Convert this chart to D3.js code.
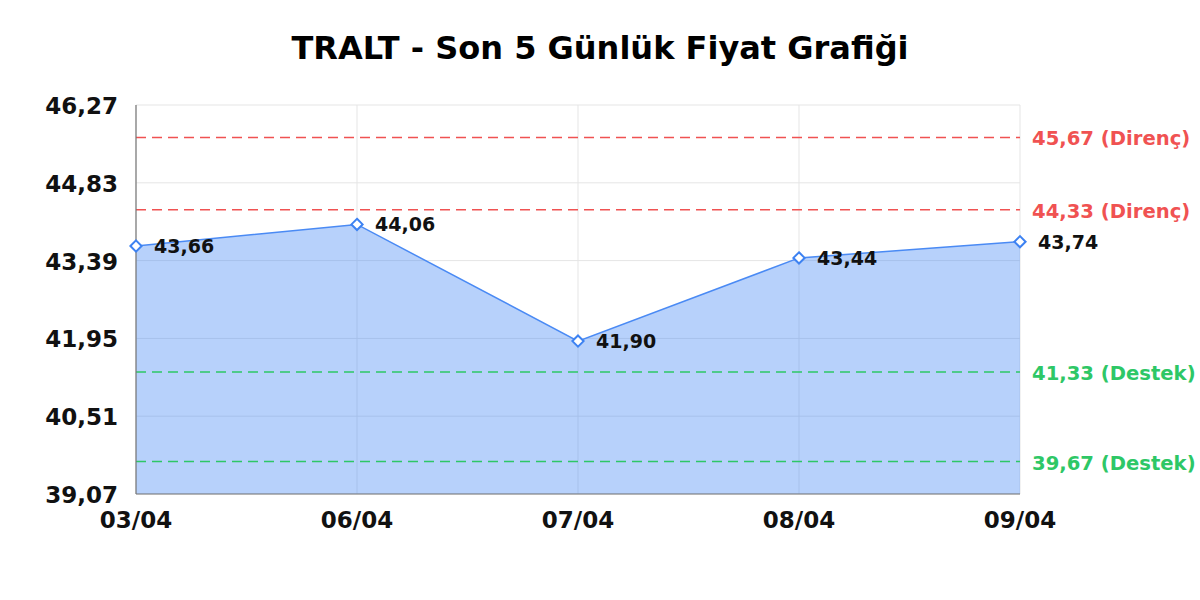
<!DOCTYPE html>
<html>
<head>
<meta charset="utf-8">
<script src="https://cdn.jsdelivr.net/npm/d3@7"></script>
<style>
  body { margin: 0; background: #fff; }
  text { font-family: "DejaVu Sans", sans-serif; font-weight: bold; }
</style>
</head>
<body>
<svg id="chart" width="1200" height="600"></svg>
<script>
// data
var dates = ['03/04', '06/04', '07/04', '08/04', '09/04'];
var prices = [43.66, 44.06, 41.90, 43.44, 43.74];
var yTicks = [39.07, 40.51, 41.95, 43.39, 44.83, 46.27];
var resistance = [45.67, 44.33];
var support = [41.33, 39.67];

var svg = d3.select('#chart');
var margin = { left: 136, right: 180, top: 105, bottom: 106 };
var W = 1200, H = 600;

var x = d3.scalePoint().domain(dates).range([margin.left, W - margin.right]);
var y = d3.scaleLinear().domain([39.07, 46.27]).range([H - margin.bottom, margin.top]);

var fmt = function (v) { return v.toFixed(2).replace('.', ','); };

// title
svg.append('text')
  .attr('x', 600).attr('y', 59)
  .attr('text-anchor', 'middle')
  .attr('font-size', 32)
  .text('TRALT - Son 5 Günlük Fiyat Grafiği');

// grid
svg.append('g').selectAll('line.h')
  .data(yTicks).enter().append('line')
  .attr('x1', margin.left).attr('x2', W - margin.right)
  .attr('y1', function (d) { return y(d); }).attr('y2', function (d) { return y(d); })
  .attr('stroke', '#e5e5e5').attr('stroke-width', 1);

svg.append('g').selectAll('line.v')
  .data(dates).enter().append('line')
  .attr('y1', margin.top).attr('y2', H - margin.bottom)
  .attr('x1', function (d) { return x(d); }).attr('x2', function (d) { return x(d); })
  .attr('stroke', '#e5e5e5').attr('stroke-width', 1);

// area + line
var area = d3.area()
  .x(function (d, i) { return x(dates[i]); })
  .y0(y(39.07))
  .y1(function (d) { return y(d); });

svg.append('path')
  .datum(prices)
  .attr('d', area)
  .attr('fill', 'rgba(66,133,244,0.38)');

var line = d3.line()
  .x(function (d, i) { return x(dates[i]); })
  .y(function (d) { return y(d); });

svg.append('path')
  .datum(prices)
  .attr('d', line)
  .attr('fill', 'none')
  .attr('stroke', '#4a8af4')
  .attr('stroke-width', 1.5);

// support / resistance lines
function levelLine(val, color, label) {
  svg.append('line')
    .attr('x1', margin.left).attr('x2', W - margin.right)
    .attr('y1', y(val)).attr('y2', y(val))
    .attr('stroke', color).attr('stroke-width', 1.5)
    .attr('stroke-dasharray', '10,6');
  svg.append('text')
    .attr('x', W - margin.right + 12).attr('y', y(val) + 8)
    .attr('font-size', 19.6)
    .attr('fill', color)
    .text(fmt(val) + ' (' + label + ')');
}
resistance.forEach(function (v) { levelLine(v, '#f05252', 'Direnç'); });
support.forEach(function (v) { levelLine(v, '#2ec766', 'Destek'); });

// axes
svg.append('line')
  .attr('x1', margin.left).attr('x2', margin.left)
  .attr('y1', margin.top).attr('y2', H - margin.bottom)
  .attr('stroke', '#777').attr('stroke-width', 1.2);
svg.append('line')
  .attr('x1', margin.left).attr('x2', W - margin.right)
  .attr('y1', H - margin.bottom).attr('y2', H - margin.bottom)
  .attr('stroke', '#777').attr('stroke-width', 1.2);

svg.append('g').selectAll('text')
  .data(yTicks).enter().append('text')
  .attr('x', margin.left - 18)
  .attr('y', function (d) { return y(d) + 9; })
  .attr('text-anchor', 'end')
  .attr('font-size', 23)
  .attr('fill', '#111')
  .text(fmt);

svg.append('g').selectAll('text')
  .data(dates).enter().append('text')
  .attr('x', function (d) { return x(d); })
  .attr('y', H - margin.bottom + 34)
  .attr('text-anchor', 'middle')
  .attr('font-size', 23)
  .attr('fill', '#111')
  .text(function (d) { return d; });

// markers + value labels
var diamond = d3.symbol().type(d3.symbolDiamond2).size(80);
svg.append('g').selectAll('path')
  .data(prices).enter().append('path')
  .attr('d', diamond)
  .attr('transform', function (d, i) { return 'translate(' + x(dates[i]) + ',' + y(d) + ')'; })
  .attr('fill', '#fff')
  .attr('stroke', '#3d82f2')
  .attr('stroke-width', 2);

svg.append('g').selectAll('text')
  .data(prices).enter().append('text')
  .attr('x', function (d, i) { return x(dates[i]) + 18; })
  .attr('y', function (d) { return y(d) + 7; })
  .attr('font-size', 19)
  .attr('fill', '#111')
  .text(fmt);
</script>
</body>
</html>
